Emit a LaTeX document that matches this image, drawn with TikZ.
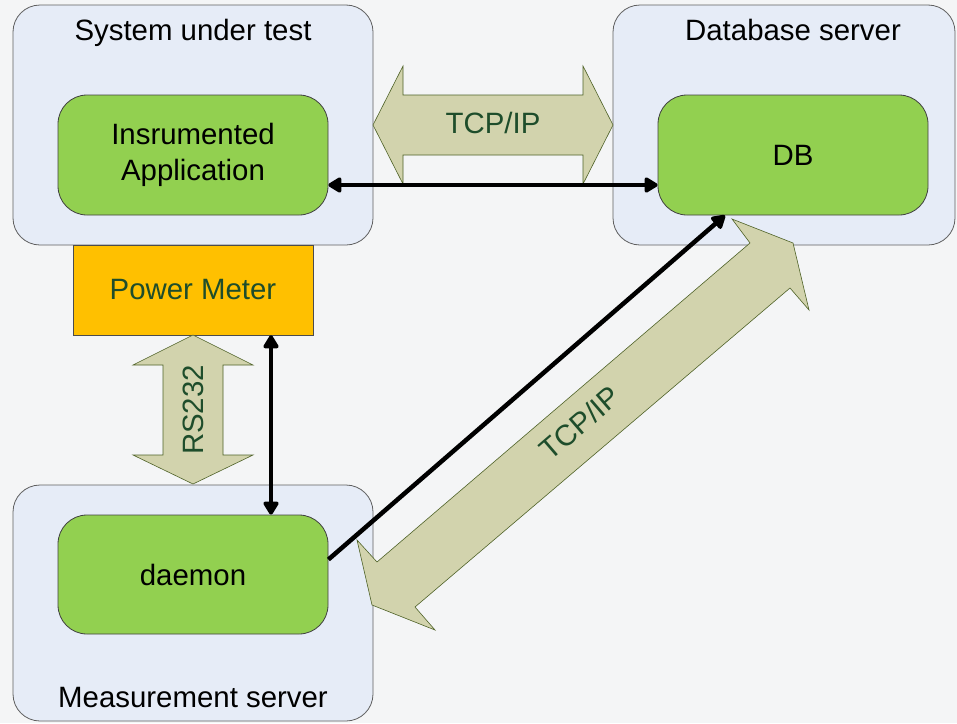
\documentclass[tikz,border=0pt]{standalone}
\usepackage{fontspec}
\setmainfont{Liberation Sans}
\usetikzlibrary{arrows.meta}
\definecolor{bgcol}{HTML}{F4F5F6}
\definecolor{boxfill}{HTML}{E6ECF7}
\definecolor{boxline}{HTML}{5F5F5F}
\definecolor{appgreen}{HTML}{92D050}
\definecolor{pmorange}{HTML}{FFC000}
\definecolor{sage}{HTML}{D2D3AD}
\definecolor{sageline}{HTML}{4F6228}
\definecolor{darkgreen}{HTML}{1E4D2B}
\tikzset{
  bigfont/.style={font=\fontsize{29.4}{36}\selectfont},
  outerbox/.style={draw=boxline, fill=boxfill, rounded corners=27pt, line width=0.8pt, inner sep=0pt},
  greenbox/.style={draw=black!75, fill=appgreen, rounded corners=29pt, line width=0.8pt, inner sep=0pt,
    minimum width=270pt, minimum height=120pt, align=center, bigfont},
  titletext/.style={anchor=base, bigfont, inner sep=0pt},
  blockarrow/.style={fill=sage, draw=sageline, line width=0.6pt},
  arrowtext/.style={bigfont, text=darkgreen, inner sep=0pt},
  link/.style={line width=4.5pt, black},
  tip/.style={-{Triangle[length=15pt,width=17pt,round]}},
  bitip/.style={{Triangle[length=15pt,width=17pt,round]}-{Triangle[length=15pt,width=17pt,round]}}
}
\begin{document}
\begin{tikzpicture}[x=1pt,y=-1pt]
\fill[bgcol] (0,0) rectangle (957,723);
\useasboundingbox (0,0) rectangle (957,723);

% outer boxes
\node[outerbox, minimum width=360pt, minimum height=240pt] (sut) at (193,125) {};
\node[outerbox, minimum width=342pt, minimum height=240pt] (dbs) at (784,125) {};
\node[outerbox, minimum width=360pt, minimum height=236pt] (ms) at (193,603) {};

\node[titletext] (suttitle) at (193,40) {System under test};
\node[titletext] (dbstitle) at (793,40) {Database server};
\node[titletext] (mstitle) at (193,707) {Measurement server};

% power meter
\node[draw=black!70, fill=pmorange, line width=0.6pt, minimum width=240pt, minimum height=90pt,
      inner sep=0pt, bigfont, text=darkgreen] (pm) at (193,290) {Power Meter};

% block arrows
\draw[blockarrow] (373,125) -- (403,66) -- (403,95) -- (583,95) -- (583,66) -- (613,125)
  -- (583,184) -- (583,155) -- (403,155) -- (403,184) -- cycle;
\node[arrowtext, anchor=base] (tcph) at (493,133) {TCP/IP};

\draw[blockarrow] (193,335) -- (253,365) -- (223,365) -- (223,455) -- (253,455) -- (193,484)
  -- (133,455) -- (163,455) -- (163,365) -- (133,365) -- cycle;
\node[arrowtext, anchor=base, rotate=90] (rs) at (203,410) {RS232};

\draw[blockarrow] (793,243) -- (809,310) -- (790,288) -- (415,607) -- (435,630) -- (372,605)
  -- (357,540) -- (377,562) -- (750,243) -- (732,219) -- cycle;
\node[arrowtext, rotate=40.7] (tcpd) at (580,423) {TCP/IP};

% inner boxes
\node[greenbox] (app) at (193,155) {\rule{0pt}{3pt}Insrumented\\Application};
\node[greenbox] (db) at (793,155) {DB};
\node[greenbox, minimum height=119pt] (daemon) at (193,574.5) {daemon};

% connectors
\draw[link, bitip] ([yshift=-30pt]app.east) -- ([yshift=-30pt]db.west);
\draw[link, bitip] ([xshift=78pt]pm.south) -- ([xshift=78pt]daemon.north);
\draw[link, tip] ([yshift=15pt]daemon.east) -- ([xshift=-68pt]db.south);
\end{tikzpicture}
\end{document}
